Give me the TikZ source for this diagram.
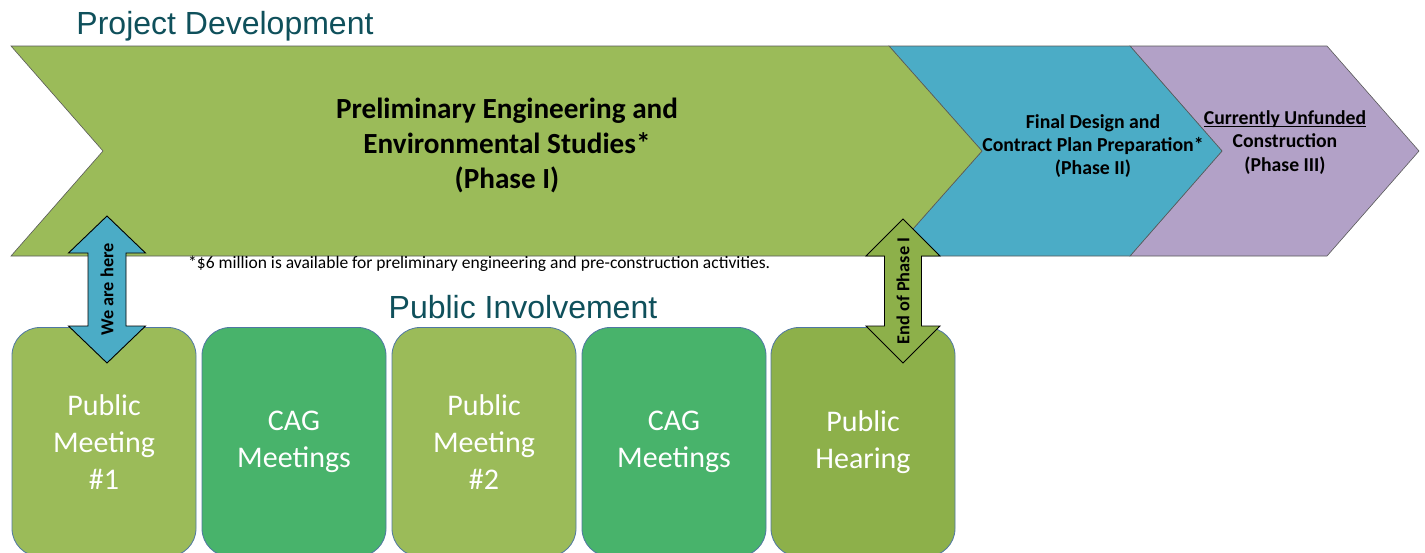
\documentclass[tikz,border=0pt]{standalone}
\usepackage{fontspec}
\setmainfont{Carlito}
\newfontfamily\arialf{Liberation Sans}
\definecolor{greenC}{HTML}{9BBB59}
\definecolor{blueC}{HTML}{4BACC6}
\definecolor{purpleC}{HTML}{B2A1C7}
\definecolor{boxgreen}{HTML}{48B36B}
\definecolor{oliveC}{HTML}{8DB04A}
\definecolor{tealT}{HTML}{0F505B}
\definecolor{boxline}{HTML}{4F77A3}
\newcommand{\myul}[1]{\setbox0\hbox{#1}\rlap{\rule[-2.6pt]{\wd0}{1.1pt}}\box0}
\begin{document}
\begin{tikzpicture}[x=1pt,y=-1pt,
  chev/.style={draw=black!65,line width=0.6pt},
  pibox/.style={draw=boxline,line width=0.8pt,rounded corners=28pt,minimum width=184pt,minimum height=229pt,inner sep=0pt,align=center,text=white,font=\fontsize{30}{37}\selectfont},
  darrow/.style={draw=black,line width=0.9pt},
  arrtxt/.style={inner sep=0pt,rotate=90,font=\fontsize{18.3}{22}\selectfont\bfseries},
  heading/.style={inner sep=0pt,anchor=base,text=tealT,font=\arialf\fontsize{32}{38}\selectfont},
  chevtxt/.style={inner sep=0pt,align=center}
]
\useasboundingbox (0,0) rectangle (1425,552);
% headings
\node[heading] (title) at (225,34) {Project Development};
% chevrons
\path[chev,fill=purpleC] (1130,46) -- (1327,46) -- (1419,151) -- (1327,256) -- (1130,256) -- (1222,151) -- cycle;
\path[chev,fill=blueC] (889,46) -- (1130,46) -- (1222,151) -- (1130,256) -- (889,256) -- (982,151) -- cycle;
\path[chev,fill=greenC] (11,46) -- (889,46) -- (982,151) -- (889,256) -- (11,256) -- (103,151) -- cycle;
\node[chevtxt,font=\fontsize{29.2}{35}\selectfont\bfseries] (p1) at (507,145) {Preliminary Engineering and\\Environmental Studies*\\(Phase I)};
\node[chevtxt,font=\fontsize{19.8}{23}\selectfont\bfseries] (p2) at (1093,146) {Final Design and\\Contract Plan Preparation*\\(Phase II)};
\node[chevtxt,font=\fontsize{19.7}{23.5}\selectfont\bfseries] (p3) at (1285,142.5) {\myul{Currently Unfunded}\\Construction\\(Phase III)};
\node[inner sep=0pt,anchor=base west,font=\fontsize{17.5}{20}\selectfont] (note) at (188,268) {*\$6 million is available for preliminary engineering and pre-construction activities.};
\node[heading] (pi) at (523,318) {Public Involvement};
% boxes
\node[pibox,fill=greenC] (b1) at (104,442) {Public\\Meeting\\\#1};
\node[pibox,fill=boxgreen] (b2) at (294,442) {CAG\\Meetings};
\node[pibox,fill=greenC] (b3) at (484,442) {Public\\Meeting\\\#2};
\node[pibox,fill=boxgreen] (b4) at (674,442) {CAG\\Meetings};
\node[pibox,fill=oliveC] (b5) at (863,442) {Public\\Hearing};
% double arrows
\path[darrow,fill=blueC] (107,216) -- (145.5,253) -- (126,253) -- (126,326) -- (145.5,326) -- (107,363) -- (68.5,326) -- (88,326) -- (88,253) -- (68.5,253) -- cycle;
\node[arrtxt] (here) at (107,289.5) {We are here};
\path[darrow,fill=oliveC] (903,219) -- (940,256) -- (921.5,256) -- (921.5,326) -- (940,326) -- (903,363) -- (866,326) -- (884.5,326) -- (884.5,256) -- (866,256) -- cycle;
\node[arrtxt] (endp) at (903,291) {End of Phase I};
\end{tikzpicture}
\end{document}
